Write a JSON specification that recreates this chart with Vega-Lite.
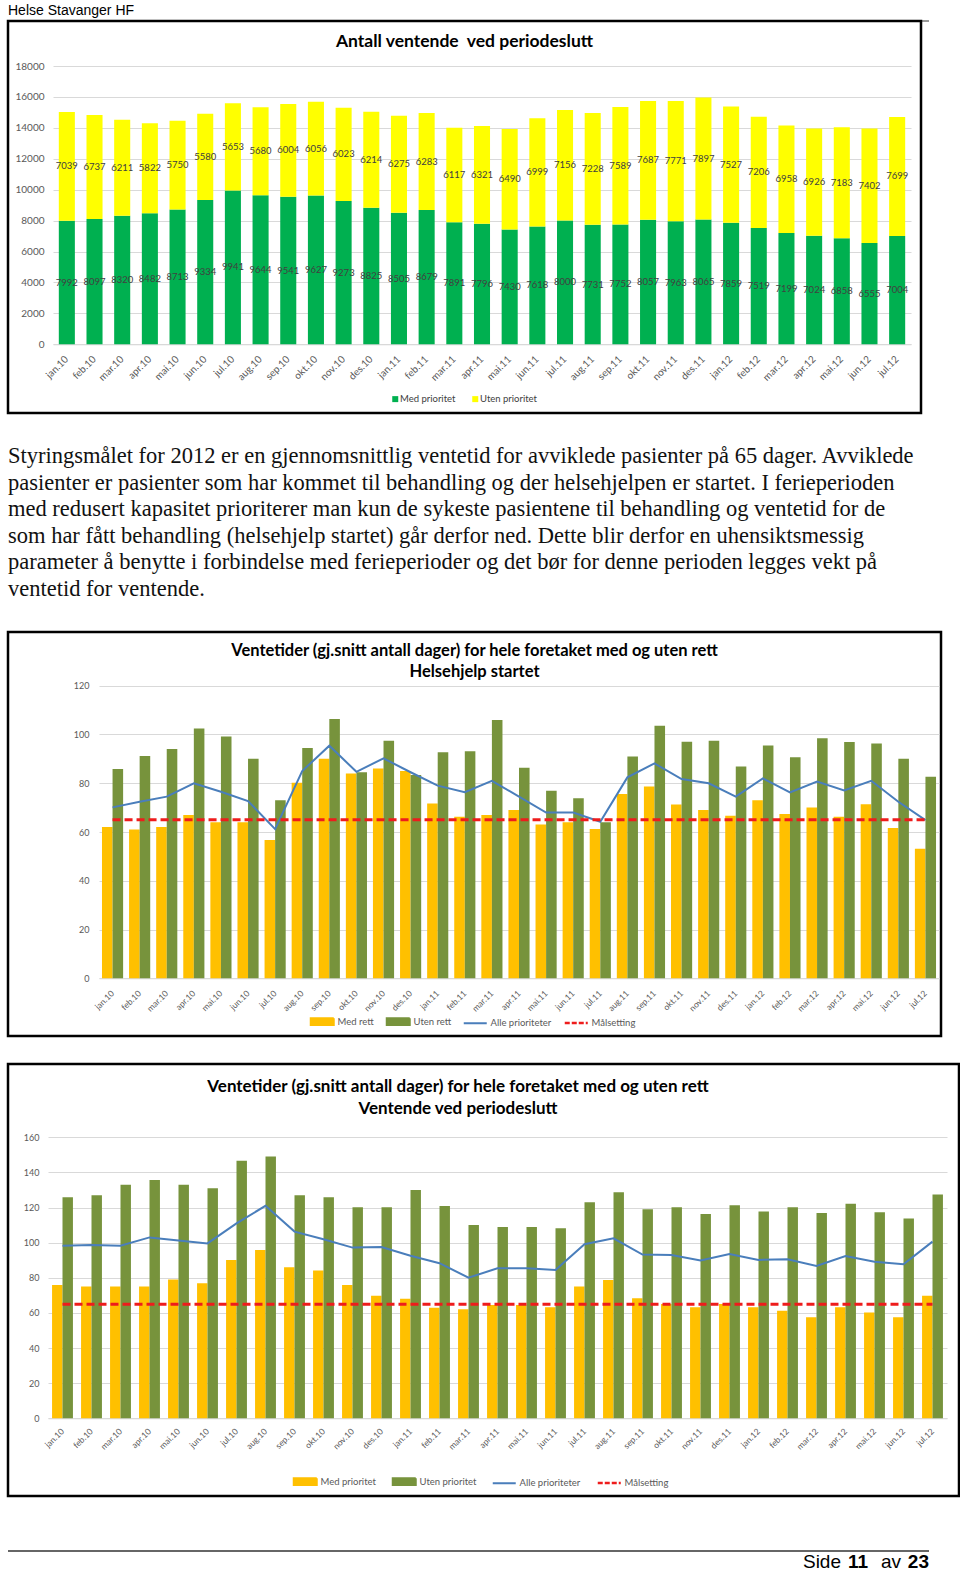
{
  "$schema": "https://vega.github.io/schema/vega-lite/v6.json",
  "padding": {"left": 6, "top": 0, "right": 0, "bottom": 0},
  "background": "#ffffff",
  "spacing": 0,
  "bounds": "flush",
  "resolve": {"scale": {"color": "independent", "xOffset": "independent", "x": "independent", "y": "independent"}, "legend": {"color": "independent"}},
  "config": {
    "view": {"stroke": null},
    "axis": {"labelFont": "Lato", "labelColor": "#595959", "ticks": false, "tickSize": 0, "domain": false, "grid": false},
    "axisY": {"grid": true, "gridColor": "#d9d9d9", "labelPadding": 0},
    "axisX": {"labelAngle": -45, "labelAlign": "right", "labelBaseline": "middle", "domain": true, "domainColor": "#d9d9d9"},
    "legend": {"labelFont": "Lato", "labelColor": "#404040", "padding": 0},
    "title": {"font": "Lato", "fontWeight": "bold", "color": "#000000", "anchor": "middle", "baseline": "alphabetic"}
  },
  "vconcat": [
    {
      "width": 921, "height": 21,
      "data": {"values": [{"t": "Helse Stavanger HF"}]},
      "layer": [
        {"mark": {"type": "text", "align": "left", "baseline": "middle", "font": "Liberation Sans", "fontSize": 14, "color": "#000000"},
         "encoding": {"x": {"datum": 0, "type": "quantitative", "scale": {"domain": [0, 1]}, "axis": null}, "text": {"field": "t"}}},
        {"mark": {"type": "rule", "color": "#333333", "strokeWidth": 1},
         "encoding": {"x": {"datum": 0, "type": "quantitative", "scale": {"domain": [0, 1]}, "axis": null}, "x2": {"datum": 1}, "y": {"datum": 0, "type": "quantitative", "scale": {"domain": [0, 1]}, "axis": null}}}
      ]
    },
    {
      "width": 913, "height": 392,
      "view": {"stroke": "#000000", "strokeWidth": 2.5},
      "title": {"text": "Antall ventende\u00a0 ved periodeslutt", "fontSize": 17.5, "offset": -29.7},
      "data": {"values": [
        {"m": "jan.10", "Med prioritet": 7992, "Uten prioritet": 7039},
        {"m": "feb.10", "Med prioritet": 8097, "Uten prioritet": 6737},
        {"m": "mar.10", "Med prioritet": 8320, "Uten prioritet": 6211},
        {"m": "apr.10", "Med prioritet": 8482, "Uten prioritet": 5822},
        {"m": "mai.10", "Med prioritet": 8713, "Uten prioritet": 5750},
        {"m": "jun.10", "Med prioritet": 9334, "Uten prioritet": 5580},
        {"m": "jul.10", "Med prioritet": 9941, "Uten prioritet": 5653},
        {"m": "aug.10", "Med prioritet": 9644, "Uten prioritet": 5680},
        {"m": "sep.10", "Med prioritet": 9541, "Uten prioritet": 6004},
        {"m": "okt.10", "Med prioritet": 9627, "Uten prioritet": 6056},
        {"m": "nov.10", "Med prioritet": 9273, "Uten prioritet": 6023},
        {"m": "des.10", "Med prioritet": 8825, "Uten prioritet": 6214},
        {"m": "jan.11", "Med prioritet": 8505, "Uten prioritet": 6275},
        {"m": "feb.11", "Med prioritet": 8679, "Uten prioritet": 6283},
        {"m": "mar.11", "Med prioritet": 7891, "Uten prioritet": 6117},
        {"m": "apr.11", "Med prioritet": 7796, "Uten prioritet": 6321},
        {"m": "mai.11", "Med prioritet": 7430, "Uten prioritet": 6490},
        {"m": "jun.11", "Med prioritet": 7618, "Uten prioritet": 6999},
        {"m": "jul.11", "Med prioritet": 8000, "Uten prioritet": 7156},
        {"m": "aug.11", "Med prioritet": 7731, "Uten prioritet": 7228},
        {"m": "sep.11", "Med prioritet": 7752, "Uten prioritet": 7589},
        {"m": "okt.11", "Med prioritet": 8057, "Uten prioritet": 7687},
        {"m": "nov.11", "Med prioritet": 7963, "Uten prioritet": 7771},
        {"m": "des.11", "Med prioritet": 8065, "Uten prioritet": 7897},
        {"m": "jan.12", "Med prioritet": 7859, "Uten prioritet": 7527},
        {"m": "feb.12", "Med prioritet": 7519, "Uten prioritet": 7206},
        {"m": "mar.12", "Med prioritet": 7199, "Uten prioritet": 6958},
        {"m": "apr.12", "Med prioritet": 7024, "Uten prioritet": 6926},
        {"m": "mai.12", "Med prioritet": 6858, "Uten prioritet": 7183},
        {"m": "jun.12", "Med prioritet": 6555, "Uten prioritet": 7402},
        {"m": "jul.12", "Med prioritet": 7004, "Uten prioritet": 7699}
      ]},
      "transform": [{"fold": ["Med prioritet", "Uten prioritet"], "as": ["key", "value"]}],
      "layer": [
        {
          "mark": {"type": "bar"},
          "encoding": {
            "x": {"field": "m", "type": "nominal",
                  "scale": {"domain": ["jan.10","feb.10","mar.10","apr.10","mai.10","jun.10","jul.10","aug.10","sep.10","okt.10","nov.10","des.10","jan.11","feb.11","mar.11","apr.11","mai.11","jun.11","jul.11","aug.11","sep.11","okt.11","nov.11","des.11","jan.12","feb.12","mar.12","apr.12","mai.12","jun.12","jul.12"],
                            "range": [45, 903], "paddingInner": 0.42, "paddingOuter": 0.21},
                  "axis": {"title": null, "labelFontSize": 10, "labelPadding": 13, "offset": -68.7}},
            "y": {"field": "value", "type": "quantitative", "stack": "zero",
                  "scale": {"domain": [0, 18000], "range": [323.3, 45], "nice": false},
                  "axis": {"title": null, "values": [0, 2000, 4000, 6000, 8000, 10000, 12000, 14000, 16000, 18000], "format": "d", "labelFontSize": 10, "offset": -36}},
            "color": {"field": "key", "type": "nominal",
                      "scale": {"domain": ["Med prioritet", "Uten prioritet"], "range": ["#00B050", "#FFFF00"]},
                      "legend": {"title": null, "orient": "none", "legendX": 382.5, "legendY": 373, "direction": "horizontal", "symbolType": "square", "symbolSize": 36, "symbolStrokeWidth": 0, "labelFontSize": 9.5, "labelOffset": 0, "columnPadding": 15}},
            "order": {"field": "key"}
          }
        },
        {
          "transform": [
            {"stack": "value", "groupby": ["m"], "sort": [{"field": "key"}], "as": ["v0", "v1"]},
            {"fold": ["v0", "v1"], "as": ["edge", "pos"]},
            {"aggregate": [{"op": "mean", "field": "pos", "as": "mid"}], "groupby": ["m", "key", "value"]}
          ],
          "mark": {"type": "text", "font": "Lato", "fontSize": 9.5, "color": "#404040", "baseline": "middle"},
          "encoding": {
            "x": {"field": "m", "type": "nominal"},
            "y": {"field": "mid", "type": "quantitative"},
            "text": {"field": "value", "type": "quantitative", "format": "d"}
          }
        }
      ]
    },
    {
      "width": 921, "height": 219,
      "data": {"values": [
        {"line": 1, "t": "Styringsmålet for 2012 er en gjennomsnittlig ventetid for avviklede pasienter på 65 dager. Avviklede"},
        {"line": 2, "t": "pasienter er pasienter som har kommet til behandling og der helsehjelpen er startet.  I ferieperioden"},
        {"line": 3, "t": "med redusert kapasitet prioriterer man kun de sykeste pasientene til behandling og ventetid for de"},
        {"line": 4, "t": "som har fått behandling (helsehjelp startet) går derfor ned. Dette blir derfor en uhensiktsmessig"},
        {"line": 5, "t": "parameter å benytte i forbindelse med ferieperioder og det bør for denne perioden legges vekt på"},
        {"line": 6, "t": "ventetid for ventende."}
      ]},
      "mark": {"type": "text", "align": "left", "baseline": "alphabetic", "font": "Liberation Serif", "fontSize": 22.5, "color": "#111111"},
      "encoding": {
        "x": {"datum": 0, "type": "quantitative", "scale": {"domain": [0, 1]}, "axis": null},
        "y": {"field": "line", "type": "quantitative", "scale": {"domain": [1, 6], "range": [50, 182.5]}, "axis": null},
        "text": {"field": "t"}
      }
    },
    {
      "width": 933, "height": 404,
      "view": {"stroke": "#000000", "strokeWidth": 2.5},
      "title": {"text": ["Ventetider (gj.snitt antall dager) for hele foretaket med og uten rett", "Helsehjelp startet"], "fontSize": 16.5, "lineHeight": 21, "offset": -48.5},
      "data": {"values": [
        {"m": "jan.10", "Med rett": 62, "Uten rett": 85.8, "Alle prioriteter": 70.1, "Målsetting": 65},
        {"m": "feb.10", "Med rett": 61, "Uten rett": 91.2, "Alle prioriteter": 72.4, "Målsetting": 65},
        {"m": "mar.10", "Med rett": 62, "Uten rett": 94, "Alle prioriteter": 74.5, "Målsetting": 65},
        {"m": "apr.10", "Med rett": 67, "Uten rett": 102.4, "Alle prioriteter": 80, "Målsetting": 65},
        {"m": "mai.10", "Med rett": 64, "Uten rett": 99.2, "Alle prioriteter": 76.5, "Målsetting": 65},
        {"m": "jun.10", "Med rett": 64, "Uten rett": 90, "Alle prioriteter": 72.7, "Målsetting": 65},
        {"m": "jul.10", "Med rett": 56.7, "Uten rett": 73, "Alle prioriteter": 61.2, "Målsetting": 65},
        {"m": "aug.10", "Med rett": 80.2, "Uten rett": 94.4, "Alle prioriteter": 85, "Målsetting": 65},
        {"m": "sep.10", "Med rett": 90, "Uten rett": 106.3, "Alle prioriteter": 95.4, "Målsetting": 65},
        {"m": "okt.10", "Med rett": 84, "Uten rett": 84.5, "Alle prioriteter": 84.7, "Målsetting": 65},
        {"m": "nov.10", "Med rett": 86, "Uten rett": 97.4, "Alle prioriteter": 90.2, "Målsetting": 65},
        {"m": "des.10", "Med rett": 85, "Uten rett": 83.4, "Alle prioriteter": 84.5, "Målsetting": 65},
        {"m": "jan.11", "Med rett": 71.7, "Uten rett": 92.7, "Alle prioriteter": 79, "Målsetting": 65},
        {"m": "feb.11", "Med rett": 66.3, "Uten rett": 93.1, "Alle prioriteter": 76.3, "Målsetting": 65},
        {"m": "mar.11", "Med rett": 67, "Uten rett": 105.9, "Alle prioriteter": 81, "Målsetting": 65},
        {"m": "apr.11", "Med rett": 69, "Uten rett": 86.4, "Alle prioriteter": 74.5, "Målsetting": 65},
        {"m": "mai.11", "Med rett": 63.1, "Uten rett": 76.9, "Alle prioriteter": 68, "Målsetting": 65},
        {"m": "jun.11", "Med rett": 64, "Uten rett": 73.8, "Alle prioriteter": 68, "Målsetting": 65},
        {"m": "jul.11", "Med rett": 61.2, "Uten rett": 64, "Alle prioriteter": 64.2, "Målsetting": 65},
        {"m": "aug.11", "Med rett": 75.6, "Uten rett": 91, "Alle prioriteter": 82.4, "Målsetting": 65},
        {"m": "sep.11", "Med rett": 78.7, "Uten rett": 103.6, "Alle prioriteter": 88.1, "Målsetting": 65},
        {"m": "okt.11", "Med rett": 71.3, "Uten rett": 97, "Alle prioriteter": 81.7, "Målsetting": 65},
        {"m": "nov.11", "Med rett": 69, "Uten rett": 97.4, "Alle prioriteter": 80, "Målsetting": 65},
        {"m": "des.11", "Med rett": 66.7, "Uten rett": 86.9, "Alle prioriteter": 74.5, "Målsetting": 65},
        {"m": "jan.12", "Med rett": 73, "Uten rett": 95.5, "Alle prioriteter": 82, "Målsetting": 65},
        {"m": "feb.12", "Med rett": 67.4, "Uten rett": 90.7, "Alle prioriteter": 76.2, "Målsetting": 65},
        {"m": "mar.12", "Med rett": 70, "Uten rett": 98.4, "Alle prioriteter": 80.7, "Målsetting": 65},
        {"m": "apr.12", "Med rett": 66.3, "Uten rett": 96.9, "Alle prioriteter": 77, "Målsetting": 65},
        {"m": "mai.12", "Med rett": 71.4, "Uten rett": 96.3, "Alle prioriteter": 81, "Målsetting": 65},
        {"m": "jun.12", "Med rett": 61.6, "Uten rett": 90, "Alle prioriteter": 72.4, "Målsetting": 65},
        {"m": "jul.12", "Med rett": 53.1, "Uten rett": 82.7, "Alle prioriteter": 64.9, "Målsetting": 65}
      ]},
      "layer": [
        {
          "transform": [{"fold": ["Med rett", "Uten rett"], "as": ["key", "value"]}],
          "mark": {"type": "bar"},
          "encoding": {
            "x": {"field": "m", "type": "nominal",
                  "scale": {"domain": ["jan.10","feb.10","mar.10","apr.10","mai.10","jun.10","jul.10","aug.10","sep.10","okt.10","nov.10","des.10","jan.11","feb.11","mar.11","apr.11","mai.11","jun.11","jul.11","aug.11","sep.11","okt.11","nov.11","des.11","jan.12","feb.12","mar.12","apr.12","mai.12","jun.12","jul.12"],
                            "range": [91, 931], "paddingInner": 0.22, "paddingOuter": 0.11},
                  "axis": {"title": null, "labelFontSize": 8.5, "labelPadding": 13, "offset": -57.7}},
            "xOffset": {"field": "key", "type": "nominal", "sort": ["Med rett", "Uten rett"], "scale": {"paddingInner": 0, "paddingOuter": 0}},
            "y": {"field": "value", "type": "quantitative",
                  "scale": {"domain": [0, 120], "range": [346.3, 53.7], "nice": false},
                  "axis": {"title": null, "values": [0, 20, 40, 60, 80, 100, 120], "labelFontSize": 9, "offset": -81}},
            "color": {"field": "key", "type": "nominal",
                      "scale": {"domain": ["Med rett", "Uten rett", "Alle prioriteter", "Målsetting"], "range": ["#FFC000", "#77933C", "#4A7EBB", "#EE1C1C"]},
                      "legend": {"title": null, "orient": "none", "legendX": 309.5, "legendY": 384.5, "direction": "horizontal", "symbolSize": 529, "labelFontSize": 9.5, "labelColor": "#595959", "labelOffset": 10.5, "columnPadding": 8,
                                 "encode": {"symbols": {"update": {
                                   "shape": {"signal": "datum.value === 'Med rett' || datum.value === 'Uten rett' ? 'M-1,-0.3H1V0.3H-1Z' : 'M-1,0H1'"},
                                   "fill": {"signal": "datum.value === 'Med rett' ? '#FFC000' : datum.value === 'Uten rett' ? '#77933C' : 'transparent'"},
                                   "stroke": {"signal": "datum.value === 'Alle prioriteter' ? '#4A7EBB' : datum.value === 'Målsetting' ? '#EE1C1C' : 'transparent'"},
                                   "strokeWidth": {"signal": "datum.value === 'Målsetting' ? 2.5 : 2"},
                                   "strokeDash": {"signal": "datum.value === 'Målsetting' ? [5, 2] : [1, 0]"},
                                   "opacity": {"value": 1}
                                 }}}}}
          }
        },
        {
          "mark": {"type": "line", "strokeWidth": 2},
          "encoding": {
            "x": {"field": "m", "type": "nominal"},
            "y": {"field": "Alle prioriteter", "type": "quantitative"},
            "color": {"datum": "Alle prioriteter"}
          }
        },
        {
          "mark": {"type": "line", "strokeWidth": 3, "strokeDash": [8, 4]},
          "encoding": {
            "x": {"field": "m", "type": "nominal"},
            "y": {"field": "Målsetting", "type": "quantitative"},
            "color": {"datum": "Målsetting"}
          }
        }
      ]
    },
    {
      "width": 921, "height": 28,
      "data": {"values": [{}]},
      "mark": {"type": "text"},
      "encoding": {"text": {"value": ""}}
    },
    {
      "width": 951, "height": 432,
      "view": {"stroke": "#000000", "strokeWidth": 2.5},
      "title": {"text": ["Ventetider (gj.snitt antall dager) for hele foretaket med og uten rett", "Ventende ved periodeslutt"], "fontSize": 17, "lineHeight": 22, "offset": -53.5, "dx": -25.5},
      "data": {"values": [
        {"m": "jan.10", "Med prioritet": 75.9, "Uten prioritet": 125.8, "Alle prioriteter": 98.3, "Målsetting": 65},
        {"m": "feb.10", "Med prioritet": 75, "Uten prioritet": 127, "Alle prioriteter": 98.7, "Målsetting": 65},
        {"m": "mar.10", "Med prioritet": 75, "Uten prioritet": 133, "Alle prioriteter": 98.3, "Målsetting": 65},
        {"m": "apr.10", "Med prioritet": 75, "Uten prioritet": 135.7, "Alle prioriteter": 103, "Målsetting": 65},
        {"m": "mai.10", "Med prioritet": 79.1, "Uten prioritet": 133, "Alle prioriteter": 101.2, "Målsetting": 65},
        {"m": "jun.10", "Med prioritet": 76.9, "Uten prioritet": 131, "Alle prioriteter": 99.6, "Målsetting": 65},
        {"m": "jul.10", "Med prioritet": 90.2, "Uten prioritet": 146.7, "Alle prioriteter": 111, "Målsetting": 65},
        {"m": "aug.10", "Med prioritet": 95.8, "Uten prioritet": 149, "Alle prioriteter": 121, "Målsetting": 65},
        {"m": "sep.10", "Med prioritet": 86, "Uten prioritet": 127, "Alle prioriteter": 106.3, "Målsetting": 65},
        {"m": "okt.10", "Med prioritet": 84.1, "Uten prioritet": 125.8, "Alle prioriteter": 101.9, "Målsetting": 65},
        {"m": "nov.10", "Med prioritet": 75.9, "Uten prioritet": 120.1, "Alle prioriteter": 97.2, "Målsetting": 65},
        {"m": "des.10", "Med prioritet": 69.8, "Uten prioritet": 120.1, "Alle prioriteter": 97.5, "Målsetting": 65},
        {"m": "jan.11", "Med prioritet": 68.1, "Uten prioritet": 130, "Alle prioriteter": 92.6, "Målsetting": 65},
        {"m": "feb.11", "Med prioritet": 63, "Uten prioritet": 120.9, "Alle prioriteter": 88.3, "Målsetting": 65},
        {"m": "mar.11", "Med prioritet": 62.1, "Uten prioritet": 110, "Alle prioriteter": 80.1, "Målsetting": 65},
        {"m": "apr.11", "Med prioritet": 64.5, "Uten prioritet": 108.9, "Alle prioriteter": 85.4, "Målsetting": 65},
        {"m": "mai.11", "Med prioritet": 64.5, "Uten prioritet": 108.9, "Alle prioriteter": 85.4, "Målsetting": 65},
        {"m": "jun.11", "Med prioritet": 63.2, "Uten prioritet": 108.2, "Alle prioriteter": 84.5, "Målsetting": 65},
        {"m": "jul.11", "Med prioritet": 75, "Uten prioritet": 123, "Alle prioriteter": 99.1, "Målsetting": 65},
        {"m": "aug.11", "Med prioritet": 78.8, "Uten prioritet": 128.7, "Alle prioriteter": 102.5, "Målsetting": 65},
        {"m": "sep.11", "Med prioritet": 68.3, "Uten prioritet": 119, "Alle prioriteter": 93.2, "Målsetting": 65},
        {"m": "okt.11", "Med prioritet": 65.1, "Uten prioritet": 120.1, "Alle prioriteter": 93, "Målsetting": 65},
        {"m": "nov.11", "Med prioritet": 63.2, "Uten prioritet": 116.3, "Alle prioriteter": 89.8, "Målsetting": 65},
        {"m": "des.11", "Med prioritet": 65.1, "Uten prioritet": 121.3, "Alle prioriteter": 93.6, "Målsetting": 65},
        {"m": "jan.12", "Med prioritet": 63.2, "Uten prioritet": 117.7, "Alle prioriteter": 90.2, "Målsetting": 65},
        {"m": "feb.12", "Med prioritet": 61.3, "Uten prioritet": 120.1, "Alle prioriteter": 90.5, "Målsetting": 65},
        {"m": "mar.12", "Med prioritet": 57.5, "Uten prioritet": 116.9, "Alle prioriteter": 86.7, "Målsetting": 65},
        {"m": "apr.12", "Med prioritet": 63.2, "Uten prioritet": 122.2, "Alle prioriteter": 92.4, "Målsetting": 65},
        {"m": "mai.12", "Med prioritet": 60.2, "Uten prioritet": 117.3, "Alle prioriteter": 89.2, "Målsetting": 65},
        {"m": "jun.12", "Med prioritet": 57.5, "Uten prioritet": 113.7, "Alle prioriteter": 87.7, "Målsetting": 65},
        {"m": "jul.12", "Med prioritet": 69.8, "Uten prioritet": 127.5, "Alle prioriteter": 100.6, "Målsetting": 65}
      ]},
      "layer": [
        {
          "transform": [{"fold": ["Med prioritet", "Uten prioritet"], "as": ["key", "value"]}],
          "mark": {"type": "bar"},
          "encoding": {
            "x": {"field": "m", "type": "nominal",
                  "scale": {"domain": ["jan.10","feb.10","mar.10","apr.10","mai.10","jun.10","jul.10","aug.10","sep.10","okt.10","nov.10","des.10","jan.11","feb.11","mar.11","apr.11","mai.11","jun.11","jul.11","aug.11","sep.11","okt.11","nov.11","des.11","jan.12","feb.12","mar.12","apr.12","mai.12","jun.12","jul.12"],
                            "range": [40, 939], "paddingInner": 0.28, "paddingOuter": 0.14},
                  "axis": {"title": null, "labelFontSize": 8.5, "labelPadding": 11, "offset": -77.7}},
            "xOffset": {"field": "key", "type": "nominal", "sort": ["Med prioritet", "Uten prioritet"], "scale": {"paddingInner": 0, "paddingOuter": 0}},
            "y": {"field": "value", "type": "quantitative",
                  "scale": {"domain": [0, 160], "range": [354.3, 73.3], "nice": false},
                  "axis": {"title": null, "values": [0, 20, 40, 60, 80, 100, 120, 140, 160], "labelFontSize": 9, "offset": -31}},
            "color": {"field": "key", "type": "nominal",
                      "scale": {"domain": ["Med prioritet", "Uten prioritet", "Alle prioriteter", "Målsetting"], "range": ["#FFC000", "#77933C", "#4A7EBB", "#EE1C1C"]},
                      "legend": {"title": null, "orient": "none", "legendX": 292.5, "legendY": 412.5, "direction": "horizontal", "symbolSize": 529, "labelFontSize": 9.5, "labelColor": "#595959", "labelOffset": 10.5, "columnPadding": 12,
                                 "encode": {"symbols": {"update": {
                                   "shape": {"signal": "datum.value === 'Med prioritet' || datum.value === 'Uten prioritet' ? 'M-1,-0.3H1V0.3H-1Z' : 'M-1,0H1'"},
                                   "fill": {"signal": "datum.value === 'Med prioritet' ? '#FFC000' : datum.value === 'Uten prioritet' ? '#77933C' : 'transparent'"},
                                   "stroke": {"signal": "datum.value === 'Alle prioriteter' ? '#4A7EBB' : datum.value === 'Målsetting' ? '#EE1C1C' : 'transparent'"},
                                   "strokeWidth": {"signal": "datum.value === 'Målsetting' ? 2.5 : 2"},
                                   "strokeDash": {"signal": "datum.value === 'Målsetting' ? [5, 2] : [1, 0]"},
                                   "opacity": {"value": 1}
                                 }}}}}
          }
        },
        {
          "mark": {"type": "line", "strokeWidth": 2},
          "encoding": {
            "x": {"field": "m", "type": "nominal"},
            "y": {"field": "Alle prioriteter", "type": "quantitative"},
            "color": {"datum": "Alle prioriteter"}
          }
        },
        {
          "mark": {"type": "line", "strokeWidth": 3, "strokeDash": [8, 4]},
          "encoding": {
            "x": {"field": "m", "type": "nominal"},
            "y": {"field": "Målsetting", "type": "quantitative"},
            "color": {"datum": "Målsetting"}
          }
        }
      ]
    },
    {
      "width": 921, "height": 81,
      "data": {"values": [{"a": "Side", "b": "11", "c": "av", "d": "23"}]},
      "layer": [
        {"mark": {"type": "rule", "color": "#333333", "strokeWidth": 1.5},
         "encoding": {"x": {"datum": 0, "type": "quantitative", "scale": {"domain": [0, 1]}, "axis": null}, "x2": {"datum": 1},
                      "y": {"datum": 0.32, "type": "quantitative", "scale": {"domain": [0, 1]}, "axis": null}}},
        {"mark": {"type": "text", "align": "right", "baseline": "alphabetic", "font": "Liberation Sans", "fontSize": 19, "color": "#000000", "dx": -88},
         "encoding": {"x": {"datum": 1, "type": "quantitative"}, "y": {"datum": 0.11, "type": "quantitative"}, "text": {"field": "a"}}},
        {"mark": {"type": "text", "align": "right", "baseline": "alphabetic", "font": "Liberation Sans", "fontSize": 19, "fontWeight": "bold", "color": "#000000", "dx": -61},
         "encoding": {"x": {"datum": 1, "type": "quantitative"}, "y": {"datum": 0.11, "type": "quantitative"}, "text": {"field": "b"}}},
        {"mark": {"type": "text", "align": "right", "baseline": "alphabetic", "font": "Liberation Sans", "fontSize": 19, "color": "#000000", "dx": -28},
         "encoding": {"x": {"datum": 1, "type": "quantitative"}, "y": {"datum": 0.11, "type": "quantitative"}, "text": {"field": "c"}}},
        {"mark": {"type": "text", "align": "right", "baseline": "alphabetic", "font": "Liberation Sans", "fontSize": 19, "fontWeight": "bold", "color": "#000000", "dx": 0},
         "encoding": {"x": {"datum": 1, "type": "quantitative"}, "y": {"datum": 0.11, "type": "quantitative"}, "text": {"field": "d"}}}
      ]
    }
  ]
}
